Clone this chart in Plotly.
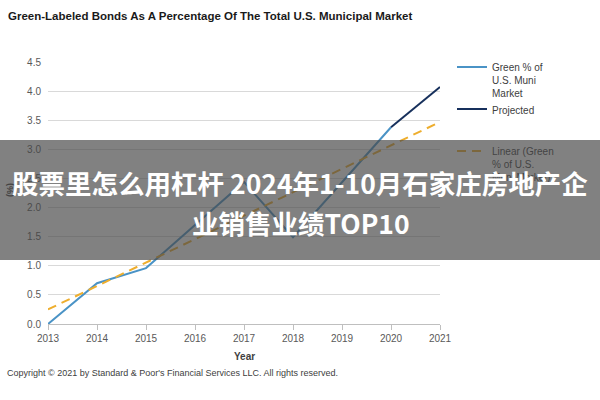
import plotly.graph_objects as go

# ---- data ----
years_green = [2013, 2014, 2015, 2016, 2017, 2018, 2019, 2020]
green_pct = [0.0, 0.70, 0.96, 1.70, 2.44, 1.49, 2.43, 3.38]
years_proj = [2020, 2021]
proj_pct = [3.38, 4.07]
years_trend = [2013, 2021]
trend_pct = [0.25, 3.47]
x_ticks = [2013, 2014, 2015, 2016, 2017, 2018, 2019, 2020, 2021]

title_text = "Green-Labeled Bonds As A Percentage Of The Total U.S. Municipal Market"
banner_line1 = "股票里怎么用杠杆 2024年1-10月石家庄房地产企"
banner_line2 = "业销售业绩TOP10"
copyright_text = "Copyright © 2021 by Standard &amp; Poor's Financial Services LLC. All rights reserved."

BASE = "Liberation Sans, Arial, sans-serif"
CJK = "Noto Sans CJK SC, Noto Sans, sans-serif"

# plot area geometry (px)
W, H = 600, 400
L, R, T, B = 48, 160, 62, 76
PW, PH = W - L - R, H - T - B


def px_x(x):
    return (x - L) / PW


def px_y(y):
    return (H - B - y) / PH


fig = go.Figure()
fig.add_trace(go.Scatter(
    x=years_green, y=green_pct, mode="lines",
    name="Green % of<br>U.S. Muni<br>Market",
    line=dict(color="#4a93c6", width=2), legendgroup="a"))
fig.add_trace(go.Scatter(
    x=years_proj, y=proj_pct, mode="lines", name="Projected",
    line=dict(color="#17305c", width=2), legendgroup="a"))
fig.add_trace(go.Scatter(
    x=years_trend, y=trend_pct, mode="lines",
    name="Linear (Green<br>% of U.S.<br>Muni Market)",
    line=dict(color="#eeae2e", width=2, dash="9px,6px"), legendgroup="b"))

fig.update_layout(
    width=W, height=H,
    margin=dict(l=L, r=R, t=T, b=B),
    paper_bgcolor="white", plot_bgcolor="white",
    font=dict(family=BASE, size=10, color="#595959"),
    title=dict(text="<b>" + title_text + "</b>", xref="container", yref="container",
               x=8 / W, xanchor="left", y=1 - 16 / H, yanchor="middle",
               font=dict(family=BASE, size=11.5, color="#1a1a1a")),
    showlegend=True,
    legend=dict(x=px_x(452), xanchor="left", y=1 + 8 / PH, yanchor="top",
                valign="top", traceorder="grouped", tracegroupgap=23,
                font=dict(family=BASE, size=10, color="#404040"),
                bgcolor="rgba(0,0,0,0)", itemwidth=30),
    xaxis=dict(range=[2013, 2021], tickvals=x_ticks, showgrid=False,
               showline=True, linecolor="#bfbfbf", linewidth=1,
               ticks="outside", ticklen=5, tickcolor="#bfbfbf",
               tickfont=dict(size=10, color="#595959"), zeroline=False),
    yaxis=dict(range=[0, 4.5], dtick=0.5, tickformat=".1f", showgrid=True,
               gridcolor="#d9d9d9", gridwidth=1, showline=False, zeroline=False,
               ticks="", ticklabelstandoff=6,
               tickfont=dict(size=10, color="#595959")),
)

annotations = [
    dict(text="<b>Year</b>", x=0.5, y=px_y(356), xref="paper", yref="paper",
         showarrow=False, font=dict(family=BASE, size=10, color="#404040"),
         xanchor="center", yanchor="middle"),
    dict(text="<b>(%)</b>", x=px_x(10), y=px_y(190), xref="paper", yref="paper",
         showarrow=False, textangle=-90,
         font=dict(family=BASE, size=9, color="#404040"),
         xanchor="center", yanchor="middle"),
    dict(text=copyright_text, x=px_x(5), y=px_y(373), xref="paper", yref="paper",
         showarrow=False, font=dict(family=BASE, size=9, color="#404040"),
         xanchor="left", yanchor="middle"),
    # semi-transparent banner
    dict(text=" ", x=px_x(300), y=px_y(200), xref="paper", yref="paper",
         showarrow=False, width=600, height=120, borderpad=0, borderwidth=0,
         bgcolor="rgba(70,70,70,0.68)", xanchor="center", yanchor="middle"),
    dict(text="<b>" + banner_line1 + "</b>", x=px_x(300), y=px_y(182),
         xref="paper", yref="paper", showarrow=False,
         font=dict(family=CJK, size=26.5, color="white"),
         xanchor="center", yanchor="middle"),
    dict(text="<b>" + banner_line2 + "</b>", x=px_x(301), y=px_y(222),
         xref="paper", yref="paper", showarrow=False,
         font=dict(family=CJK, size=26.5, color="white"),
         xanchor="center", yanchor="middle"),
]
fig.update_layout(annotations=annotations)

fig.write_html("out.html")
